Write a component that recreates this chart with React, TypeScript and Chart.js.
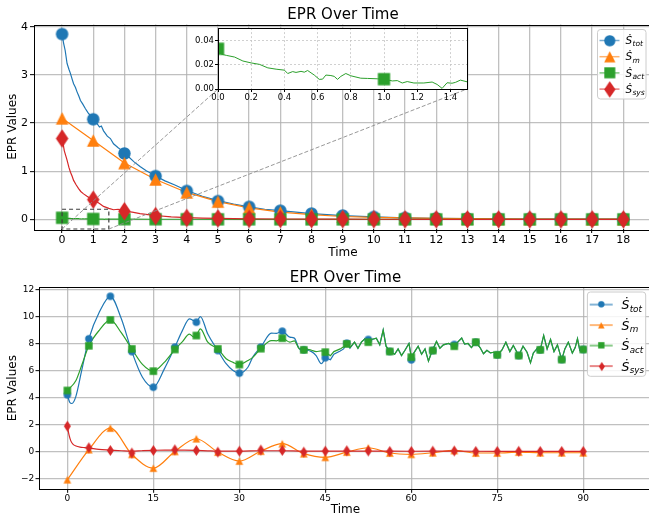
import React, { useEffect, useRef } from "react";
import { Chart, registerables } from "chart.js";

Chart.register(...registerables);

// ================= TOP PANEL (decay, t = 0..18) =================
const topXTicks = [0, 1, 2, 3, 4, 5, 6, 7, 8, 9, 10, 11, 12, 13, 14, 15, 16, 17, 18];
const topYTicks = [0, 1, 2, 3, 4];
const topMarkerTime = [0, 1, 2, 3, 4, 5, 6, 7, 8, 9, 10, 11, 12, 13, 14, 15, 16, 17, 18];
const topTotMarkers = [3.85, 2.08, 1.37, 0.9, 0.59, 0.38, 0.26, 0.18, 0.12, 0.08, 0.05, 0.03, 0.02, 0.015, 0.01, 0.008, 0.006, 0.005, 0.004];
const topMMarkers = [2.1, 1.64, 1.17, 0.83, 0.56, 0.37, 0.24, 0.15, 0.1, 0.06, 0.04, 0.03, 0.02, 0.015, 0.01, 0.008, 0.006, 0.005, 0.004];
const topActMarkers = [0.0335, 0.0082, 0.004, 0.003, 0.003, 0.002, 0.002, 0.002, 0.001, 0.001, 0.001, 0.001, 0.001, 0.001, 0.001, 0.001, 0.001, 0.001, 0.001];
const topSysMarkers = [1.68, 0.41, 0.17, 0.07, 0.03, 0.02, 0.01, 0.008, 0.005, 0.004, 0.003, 0.002, 0.002, 0.001, 0.001, 0.001, 0.001, 0.001, 0.001];

const topTotTime = [0, 0.05, 0.1, 0.16, 0.22, 0.27, 0.33, 0.37, 0.43, 0.48,
  0.54, 0.59, 0.66, 0.75, 0.83, 0.9, 1, 1.1, 1.2, 1.26,
  1.33, 1.45, 1.55, 1.65, 1.8, 1.9, 2, 2.15, 2.3, 2.5,
  2.7, 2.85, 3, 3.3, 3.6, 4, 4.5, 5, 5.5, 6,
  6.5, 7, 8, 9, 10, 11, 12, 13, 14, 15,
  16, 17, 18];
const topTotLine = [3.85, 3.66, 3.51, 3.24, 3.12, 3.03, 2.9, 2.82, 2.74, 2.65,
  2.56, 2.47, 2.4, 2.3, 2.22, 2.16, 2.07, 2.01, 1.92, 1.94,
  1.84, 1.73, 1.68, 1.57, 1.49, 1.44, 1.37, 1.29, 1.2, 1.1,
  1.01, 0.96, 0.9, 0.8, 0.72, 0.6, 0.48, 0.39, 0.32, 0.26,
  0.21, 0.18, 0.12, 0.08, 0.05, 0.03, 0.02, 0.015, 0.01, 0.008,
  0.006, 0.005, 0.004];

const topSysTime = [0, 0.04, 0.07, 0.12, 0.16, 0.22, 0.27, 0.32, 0.37, 0.45,
  0.53, 0.6, 0.69, 0.8, 0.9, 1, 1.1, 1.2, 1.33, 1.5,
  1.65, 1.8, 2, 2.25, 2.5, 2.75, 3, 3.5, 4, 4.5,
  5, 6, 7, 8, 9, 10, 12, 14, 16, 18];
const topSysLine = [1.68, 1.55, 1.43, 1.32, 1.23, 1.08, 0.98, 0.9, 0.81, 0.72,
  0.64, 0.58, 0.53, 0.48, 0.44, 0.41, 0.37, 0.33, 0.27, 0.23,
  0.2, 0.21, 0.17, 0.15, 0.12, 0.1, 0.08, 0.05, 0.035, 0.025,
  0.02, 0.012, 0.008, 0.005, 0.004, 0.003, 0.002, 0.001, 0.001, 0.001];

// S_act detail (shown in the inset, t = 0..1.5)
const actDetailTime = [0, 0.02, 0.05, 0.1, 0.15, 0.2, 0.25, 0.3, 0.35, 0.4,
  0.42, 0.45, 0.47, 0.5, 0.52, 0.54, 0.58, 0.61, 0.63, 0.65,
  0.68, 0.7, 0.72, 0.74, 0.77, 0.8, 0.86, 0.9, 0.96, 1,
  1.05, 1.08, 1.11, 1.14, 1.18, 1.24, 1.29, 1.32, 1.35, 1.38,
  1.41, 1.43, 1.46, 1.5];
const actDetailLine = [0.0335, 0.029, 0.028, 0.0266, 0.0233, 0.0217, 0.0205, 0.0176, 0.0165, 0.0157,
  0.0129, 0.0145, 0.0138, 0.0147, 0.014, 0.0154, 0.0116, 0.008, 0.0082, 0.0116,
  0.0112, 0.0105, 0.008, 0.0105, 0.0129, 0.011, 0.009, 0.0088, 0.0085, 0.0082,
  0.0067, 0.007, 0.005, 0.0062, 0.005, 0.005, 0.0058, 0.0038, 0.0005, 0.0052,
  0.0048, 0.0055, 0.0074, 0.006];
const actLateTime = [2, 3, 4, 6, 8, 10, 12, 14, 16, 18];
const actLateLine = [0.004, 0.003, 0.003, 0.002, 0.002, 0.001, 0.001, 0.001, 0.001, 0.001];

const zoomRegion = { x0: 0, x1: 1.5, y0: -0.2, y1: 0.21 };
const insetXTicks = [0, 0.2, 0.4, 0.6, 0.8, 1.0, 1.2, 1.4];
const insetYTicks = [0, 0.02, 0.04];

// ================= BOTTOM PANEL (oscillating, t = 0..90) =================
const botXTicks = [0, 15, 30, 45, 60, 75, 90];
const botYTicks = [-2, 0, 2, 4, 6, 8, 10, 12];
const botMarkerTime = [0, 3.75, 7.5, 11.25, 15, 18.75, 22.5, 26.25, 30, 33.75, 37.5, 41.25, 45,
  48.75, 52.5, 56.25, 60, 63.75, 67.5, 71.25, 75, 78.75, 82.5, 86.25, 90];
const botTotMarkers = [4.2, 8.35, 11.5, 7.4, 4.76, 7.73, 9.58, 7.48, 5.8, 7.73, 8.91, 7.53, 6.94,
  8.02, 8.3, 7.41, 6.79, 7.48, 7.93, 8.1, 7.16, 7.11, 7.53, 6.81, 7.56];
const botActMarkers = [4.52, 7.83, 9.75, 7.6, 5.95, 7.56, 8.59, 7.6, 6.44, 7.62, 8.39, 7.53, 7.36,
  7.97, 8.1, 7.41, 6.99, 7.48, 7.8, 8.1, 7.16, 7.11, 7.53, 6.81, 7.56];
const botMMarkers = [-2.1, 0.13, 1.73, -0.22, -1.24, 0.0, 0.94, -0.05, -0.72, 0.02, 0.57, -0.17, -0.44,
  -0.05, 0.27, -0.12, -0.22, -0.1, 0.07, -0.12, -0.12, -0.05, -0.1, -0.1, -0.1];
const botSysMarkers = [1.87, 0.27, 0.07, -0.12, 0.07, 0.12, 0.07, -0.05, 0.02, 0.1, 0.07, -0.05, 0.02,
  0.05, 0.03, 0.0, 0.0, 0.02, 0.03, 0.0, 0.0, 0.01, 0.0, 0.0, 0.0];

const botSysTime = [0, 0.3, 0.6, 1, 1.5, 2.2, 3, 3.75, 5.5, 7.5, 9.5, 11.25, 13, 15, 17, 18.75,
  20.5, 22.5, 24.5, 26.25, 30, 33.75, 37.5, 41.25, 45, 52.5, 60, 67.5, 75, 82.5, 90];
const botSysLine = [1.87, 1.2, 0.78, 0.52, 0.4, 0.32, 0.28, 0.25, 0.15, 0.1, 0.05, 0.02, 0.05, 0.08, 0.1, 0.1,
  0.09, 0.07, 0.04, 0.02, 0.02, 0.05, 0.05, 0.02, 0.02, 0.02, 0.01, 0.02, 0.0, 0.0, 0.0];

const botTotHeadTime = [0, 0.4, 0.8, 1.5, 2.5, 3.75, 5.6, 7.5, 9.4, 11.25,
  13.1, 15, 16.9, 18.75, 20, 21.3, 22, 22.5, 23.2, 24.5,
  26.25, 27.7, 28.9, 30, 31.5, 32.4, 33.75, 35.6, 36.5, 37.5,
  38.8, 39.6, 40.5, 41.25, 42.6, 43.4, 44.3, 45];
const botTotHead = [4.2, 3.65, 3.55, 4.1, 6.0, 8.35, 10.35, 11.5, 9.85, 7.4,
  5.5, 4.76, 6.1, 7.73, 8.9, 9.83, 9.7, 9.58, 10.0, 8.7,
  7.48, 6.5, 6.0, 5.8, 6.24, 7.04, 7.73, 8.77, 8.75, 8.91,
  8.47, 8.4, 7.6, 7.53, 7.4, 7.1, 6.5, 6.94];
const botTotTailTime = [45, 45.9, 46.5, 47.6, 48.2, 48.75, 49.3, 50.1];
const botTotTail = [6.94, 6.8, 7.2, 7.45, 7.6, 8.02, 7.65, 8.1];

const botActHeadTime = [0, 1.5, 2.6, 3.75, 5.6, 7.5, 9.4, 11.25, 13.1, 15,
  16.9, 18.75, 20, 21.3, 22, 22.5, 23.2, 24.5, 26.25, 27.7,
  28.9, 30, 31.5, 32.4, 33.75, 35.6, 36.5, 37.5, 38.8, 39.6,
  40.5, 41.25, 42.6, 43.4, 44.3, 45];
const botActHead = [4.52, 5.26, 6.5, 7.83, 9.0, 9.75, 8.8, 7.6, 6.45, 5.95,
  6.6, 7.56, 8.1, 8.7, 8.5, 8.59, 9.09, 8.1, 7.6, 6.87,
  6.6, 6.44, 6.74, 6.99, 7.62, 8.22, 8.2, 8.4, 8.1, 8.2,
  7.6, 7.6, 7.5, 7.4, 7.45, 7.36];
const botActTailTime = [45, 45.9, 46.5, 47.6, 48.2, 48.75, 49.3, 50.1, 50.7, 51.3,
  51.9, 52.5, 53.1, 53.9, 54.5, 55.1, 55.6, 56.25, 57.1, 57.7,
  58.3, 58.9, 59.6, 60, 60.6, 61.2, 61.8, 62.4, 63, 63.6,
  64.4, 65, 65.6, 66.5, 67.5, 68.1, 68.8, 69.3, 69.9, 70.5,
  71.25, 72, 72.6, 73.2, 73.8, 74.4, 75, 75.8, 76.5, 77.2,
  77.8, 78.75, 79.5, 80.2, 80.8, 81.3, 82.1, 82.5, 83.1, 83.7,
  84.3, 84.9, 85.5, 86.25, 86.8, 87.4, 88.1, 88.6, 89, 89.4,
  90];
const botActTail = [7.36, 7.1, 7.4, 7.6, 7.75, 7.97, 7.7, 8.1, 7.65, 8.1,
  8.35, 8.1, 8.3, 8.4, 7.9, 9.0, 7.8, 7.41, 7.2, 7.6,
  7.1, 7.5, 8.0, 6.99, 7.4, 7.8, 7.2, 7.6, 6.7, 7.4,
  8.15, 7.65, 7.9, 8.0, 7.8, 8.1, 8.4, 7.95, 8.0, 7.7,
  8.1, 7.7, 7.24, 7.5, 7.3, 7.35, 7.16, 7.5, 8.1, 7.4,
  7.85, 7.11, 7.8, 7.35, 6.57, 7.3, 7.7, 7.53, 8.6, 7.6,
  8.3, 7.4, 7.9, 6.81, 7.6, 8.1, 7.3, 7.7, 8.35, 7.5,
  7.56];

const legendMain = "\u1E60";
const legendSubs = ["tot", "m", "act", "sys"];
const TITLE = "EPR Over Time";
const X_TITLE = "Time";
const Y_TITLE = "EPR Values";

// ================= styling =================
const C_TOT = "#1f77b4";
const C_M = "#ff7f0e";
const C_ACT = "#2ca02c";
const C_SYS = "#d62728";
const GRID = "rgba(176,176,176,0.8)";
const FONT = '"DejaVu Sans", sans-serif';
const INSET_X = 190;
const INSET_Y = 22;

type Shape = "circle" | "square" | "triangle" | "diamond";
function markerCanvas(shape: Shape, w: number, h: number, color: string): HTMLCanvasElement {
  const pad = 1;
  const c = document.createElement("canvas");
  c.width = Math.ceil(w) + pad * 2;
  c.height = Math.ceil(h) + pad * 2;
  const ctx = c.getContext("2d")!;
  const cx = c.width / 2, cy = c.height / 2;
  ctx.fillStyle = color;
  ctx.beginPath();
  if (shape === "circle") ctx.arc(cx, cy, w / 2, 0, Math.PI * 2);
  else if (shape === "square") ctx.rect(cx - w / 2, cy - h / 2, w, h);
  else if (shape === "triangle") {
    ctx.moveTo(cx, cy - h / 2); ctx.lineTo(cx + w / 2, cy + h / 2); ctx.lineTo(cx - w / 2, cy + h / 2); ctx.closePath();
  } else {
    ctx.moveTo(cx, cy - h / 2); ctx.lineTo(cx + w / 2, cy); ctx.lineTo(cx, cy + h / 2); ctx.lineTo(cx - w / 2, cy); ctx.closePath();
  }
  ctx.fill();
  return c;
}

const pts = (t: number[], v: number[]) => t.map((x, i) => ({ x, y: v[i] }));
const fmt = (d: number) => (v: any) => {
  const n = Number(v);
  const s = Math.abs(n).toFixed(d);
  return n < -1e-9 ? "\u2212" + s : s;
};

const framePlugin = {
  id: "frame",
  afterDatasetsDraw(chart: any) {
    const { ctx, chartArea: a } = chart;
    ctx.save();
    ctx.strokeStyle = "#000";
    ctx.lineWidth = 1;
    ctx.strokeRect(Math.round(a.left) + 0.5, Math.round(a.top) + 0.5, Math.round(a.right - a.left), Math.round(a.bottom - a.top));
    ctx.restore();
  },
};

function legendPlugin(cfg: any, items: any[]) {
  return {
    id: "mathLegend",
    afterDraw(chart: any) {
      const { ctx, chartArea: a } = chart;
      const right = a.right - cfg.padRight;
      const top = a.top + cfg.padTop;
      const left = right - cfg.width;
      ctx.save();
      const r = 3;
      ctx.beginPath();
      ctx.moveTo(left + r, top);
      ctx.lineTo(right - r, top); ctx.quadraticCurveTo(right, top, right, top + r);
      ctx.lineTo(right, top + cfg.height - r); ctx.quadraticCurveTo(right, top + cfg.height, right - r, top + cfg.height);
      ctx.lineTo(left + r, top + cfg.height); ctx.quadraticCurveTo(left, top + cfg.height, left, top + cfg.height - r);
      ctx.lineTo(left, top + r); ctx.quadraticCurveTo(left, top, left + r, top);
      ctx.closePath();
      ctx.fillStyle = "rgba(255,255,255,0.85)";
      ctx.fill();
      ctx.strokeStyle = "#cccccc";
      ctx.lineWidth = 1;
      ctx.stroke();
      items.forEach((it, i) => {
        const y = top + cfg.firstRow + i * cfg.rowGap;
        ctx.globalAlpha = cfg.lineAlpha;
        ctx.strokeStyle = it.color;
        ctx.lineWidth = cfg.lineWidth;
        ctx.beginPath();
        ctx.moveTo(left + cfg.lineX0, y);
        ctx.lineTo(left + cfg.lineX1, y);
        ctx.stroke();
        ctx.globalAlpha = 1;
        const m = it.marker as HTMLCanvasElement;
        const s = cfg.markScale || 1;
        const mw = m.width * s, mh = m.height * s;
        ctx.drawImage(m, Math.round(left + cfg.markX - mw / 2), Math.round(y - mh / 2), mw, mh);
        ctx.fillStyle = "#000";
        ctx.textBaseline = "alphabetic";
        ctx.textAlign = "left";
        ctx.font = `italic ${cfg.size}px ${FONT}`;
        const tx = left + cfg.textX;
        const base = y + cfg.size * 0.36;
        ctx.fillText(legendMain, tx, base);
        const w = ctx.measureText(legendMain).width;
        ctx.font = `italic ${cfg.subSize}px ${FONT}`;
        ctx.fillText(it.sub, tx + w + 0.3, base + cfg.size * 0.2);
      });
      ctx.restore();
    },
  };
}

function lineDs(data: any[], color: string, order: number, extra: any = {}) {
  return { data, borderColor: color, backgroundColor: color, borderWidth: 1.2, pointRadius: 0, showLine: true, tension: 0, order, ...extra };
}
// One dataset carrying all markers: points are painted in array order,
// so the series listed later (sys) ends up on top, as in the reference.
function markersDs(groups: { t: number[]; v: number[]; marker: HTMLCanvasElement }[], order: number) {
  const data: { x: number; y: number }[] = [];
  const styles: HTMLCanvasElement[] = [];
  groups.forEach((g) => g.t.forEach((x, i) => { data.push({ x, y: g.v[i] }); styles.push(g.marker); }));
  return { data, showLine: false, pointRadius: 5, pointStyle: styles, borderColor: "#000", backgroundColor: "#000", order };
}

function scaleOpts(o: any) {
  return {
    type: "linear",
    min: o.min,
    max: o.max,
    afterBuildTicks: (s: any) => { s.ticks = o.ticks.map((v: number) => ({ value: v })); },
    afterFit: (s: any) => { if (o.width !== undefined) s.width = o.width; if (o.height !== undefined) s.height = o.height; },
    ticks: { autoSkip: false, maxRotation: 0, color: "#000", font: { size: o.font, family: FONT }, padding: o.pad, callback: fmt(o.dec) },
    grid: { color: o.gridColor || GRID, lineWidth: o.gridWidth || 1.3, tickColor: "#000", tickLength: o.tickLen, tickWidth: 1 },
    border: { display: false, dash: o.dash },
    title: o.title ? { display: true, text: o.title, color: "#000", font: { size: 12, family: FONT }, padding: o.titlePad } : { display: false },
  };
}

export default function App() {
  const topRef = useRef<HTMLCanvasElement>(null);
  const insetRef = useRef<HTMLCanvasElement>(null);
  const botRef = useRef<HTMLCanvasElement>(null);

  useEffect(() => {
    Chart.defaults.font.family = FONT;
    Chart.defaults.color = "#000";
    const charts: Chart[] = [];

    const big = {
      tot: markerCanvas("circle", 12.5, 12.5, C_TOT),
      m: markerCanvas("triangle", 12.5, 12.5, C_M),
      act: markerCanvas("square", 12.3, 12.3, C_ACT),
      sys: markerCanvas("diamond", 12.5, 18.5, C_SYS),
    };
    const small = {
      tot: markerCanvas("circle", 7.5, 7.5, C_TOT),
      m: markerCanvas("triangle", 7.6, 7.6, C_M),
      act: markerCanvas("square", 7.5, 7.5, C_ACT),
      sys: markerCanvas("diamond", 7, 11, C_SYS),
    };

    const common = {
      responsive: false,
      animation: false as const,
      events: [] as any[],
    };

    // ---------- inset ----------
    const inset = new Chart(insetRef.current!, {
      type: "line",
      data: {
        datasets: [
          lineDs(pts(actDetailTime, actDetailLine), C_ACT, 12, { borderWidth: 1 }),
          markersDs([{ t: topMarkerTime, v: topActMarkers, marker: big.act }], 0),
        ] as any,
      },
      options: {
        ...common,
        layout: { padding: { left: 0, right: 8, top: 5, bottom: 0 } },
        plugins: { legend: { display: false }, tooltip: { enabled: false }, title: { display: false } },
        scales: {
          x: scaleOpts({ min: 0, max: 1.5, ticks: insetXTicks, height: 17, font: 8.5, pad: 1, dec: 1, tickLen: 3, dash: [2, 2], gridColor: "#c4c4c4", gridWidth: 0.8 }),
          y: scaleOpts({ min: 0, max: 0.0507, ticks: insetYTicks, width: 28, font: 8.5, pad: 1, dec: 2, tickLen: 3, dash: [2, 2], gridColor: "#c4c4c4", gridWidth: 0.8 }),
        } as any,
      },
      plugins: [
        { id: "bg", beforeDraw(chart: any) { const { ctx, chartArea: a } = chart; ctx.save(); ctx.fillStyle = "#fff"; ctx.fillRect(a.left, a.top, a.right - a.left, a.bottom - a.top); ctx.restore(); } },
        framePlugin,
      ],
    } as any);
    charts.push(inset);

    // ---------- top ----------
    const zoomPlugin = {
      id: "zoomMark",
      afterDatasetsDraw(chart: any) {
        const { ctx } = chart;
        const xs = chart.scales.x, ys = chart.scales.y;
        const x0 = xs.getPixelForValue(zoomRegion.x0), x1 = xs.getPixelForValue(zoomRegion.x1);
        const yT = ys.getPixelForValue(zoomRegion.y1), yB = ys.getPixelForValue(zoomRegion.y0);
        const ia = inset.chartArea;
        ctx.save();
        ctx.setLineDash([4, 3]);
        ctx.strokeStyle = "#3c3c3c";
        ctx.lineWidth = 1.2;
        ctx.strokeRect(x0, yT, x1 - x0, yB - yT);
        ctx.setLineDash([4, 2]);
        ctx.strokeStyle = "#8c8c8c";
        ctx.lineWidth = 0.9;
        ctx.beginPath();
        ctx.moveTo(x0, yB); ctx.lineTo(INSET_X + ia.left, INSET_Y + ia.bottom);
        ctx.moveTo(x1, yB); ctx.lineTo(INSET_X + ia.right, INSET_Y + ia.bottom);
        ctx.stroke();
        ctx.restore();
      },
    };
    const topItems = [
      { color: C_TOT, marker: big.tot, sub: legendSubs[0] },
      { color: C_M, marker: big.m, sub: legendSubs[1] },
      { color: C_ACT, marker: big.act, sub: legendSubs[2] },
      { color: C_SYS, marker: big.sys, sub: legendSubs[3] },
    ];
    const top = new Chart(topRef.current!, {
      type: "line",
      data: {
        datasets: [
          lineDs(pts(topTotTime, topTotLine), C_TOT, 14),
          lineDs(pts(topMarkerTime, topMMarkers), C_M, 13),
          lineDs(pts(actDetailTime.concat(actLateTime), actDetailLine.concat(actLateLine)), C_ACT, 12),
          lineDs(pts(topSysTime, topSysLine), C_SYS, 11),
          markersDs([
            { t: topMarkerTime, v: topTotMarkers, marker: big.tot },
            { t: topMarkerTime, v: topMMarkers, marker: big.m },
            { t: topMarkerTime, v: topActMarkers, marker: big.act },
            { t: topMarkerTime, v: topSysMarkers, marker: big.sys },
          ], 0),
        ] as any,
      },
      options: {
        ...common,
        layout: { padding: { left: 0, right: 8, top: 0, bottom: 0 } },
        plugins: {
          legend: { display: false },
          tooltip: { enabled: false },
          title: { display: true, text: TITLE, fullSize: false, color: "#000", font: { size: 15, weight: "normal", family: FONT }, padding: { top: 6.5, bottom: 0 } },
        },
        scales: {
          x: scaleOpts({ min: -0.9, max: 18.92, ticks: topXTicks, height: 33, font: 11, pad: 1, dec: 0, tickLen: 4, title: X_TITLE, titlePad: { top: 0, bottom: 2 } }),
          y: scaleOpts({ min: -0.2, max: 4.05, ticks: topYTicks, width: 34, font: 11, pad: 2, dec: 0, tickLen: 4, title: Y_TITLE, titlePad: { top: 6, bottom: 0 } }),
        } as any,
      },
      plugins: [framePlugin, zoomPlugin,
        legendPlugin({ padRight: 6, padTop: 5, width: 48.5, height: 69.5, firstRow: 11, rowGap: 16.2, lineX0: 2, lineX1: 22, markX: 12, textX: 28, size: 10.5, subSize: 7.5, lineWidth: 1.5, lineAlpha: 0.6, markScale: 0.9 }, topItems)],
    } as any);
    charts.push(top);

    // ---------- bottom ----------
    const botItems = [
      { color: C_TOT, marker: small.tot, sub: legendSubs[0] },
      { color: C_M, marker: small.m, sub: legendSubs[1] },
      { color: C_ACT, marker: small.act, sub: legendSubs[2] },
      { color: C_SYS, marker: small.sys, sub: legendSubs[3] },
    ];
    const totTailData = pts(botTotTailTime, botTotTail).concat(
      pts(botActTailTime, botActTail).filter((p) => p.x > botTotTailTime[botTotTailTime.length - 1])
    );
    const smooth = { cubicInterpolationMode: "monotone" };
    const bot = new Chart(botRef.current!, {
      type: "line",
      data: {
        datasets: [
          lineDs(pts(botTotHeadTime, botTotHead), C_TOT, 14, smooth),
          lineDs(totTailData, C_TOT, 14),
          lineDs(pts(botMarkerTime, botMMarkers), C_M, 13, smooth),
          lineDs(pts(botActHeadTime, botActHead), C_ACT, 12, smooth),
          lineDs(pts(botActTailTime, botActTail), C_ACT, 12),
          lineDs(pts(botSysTime, botSysLine), C_SYS, 11, smooth),
          markersDs([
            { t: botMarkerTime, v: botTotMarkers, marker: small.tot },
            { t: botMarkerTime, v: botMMarkers, marker: small.m },
            { t: botMarkerTime, v: botActMarkers, marker: small.act },
            { t: botMarkerTime, v: botSysMarkers, marker: small.sys },
          ], 0),
        ] as any,
      },
      options: {
        ...common,
        layout: { padding: { left: 0, right: 8, top: 0, bottom: 0 } },
        plugins: {
          legend: { display: false },
          tooltip: { enabled: false },
          title: { display: true, text: TITLE, fullSize: false, color: "#000", font: { size: 15, weight: "normal", family: FONT }, padding: { top: 7, bottom: 0 } },
        },
        scales: {
          x: scaleOpts({ min: -4.95, max: 102, ticks: botXTicks, height: 32.7, font: 9, pad: 0.5, dec: 0, tickLen: 3.5, title: X_TITLE, titlePad: { top: 0, bottom: 4.8 } }),
          y: scaleOpts({ min: -2.81, max: 12.19, ticks: botYTicks, width: 39, font: 9, pad: 1.2, dec: 0, tickLen: 3.5, title: Y_TITLE, titlePad: { top: 6, bottom: 0 } }),
        } as any,
      },
      plugins: [framePlugin,
        legendPlugin({ padRight: 6.3, padTop: 5, width: 58.3, height: 84.3, firstRow: 12.6, rowGap: 20.5, lineX0: 2.3, lineX1: 25.3, markX: 14, textX: 34, size: 12.5, subSize: 8.8, lineWidth: 2, lineAlpha: 0.55, markScale: 0.85 }, botItems)],
    } as any);
    charts.push(bot);

    return () => charts.forEach((c) => c.destroy());
  }, []);

  return (
    <div style={{ position: "fixed", left: 0, top: 0, width: 649, height: 514, overflow: "hidden", background: "#fff" }}>
      <canvas ref={topRef} width={660} height={262} style={{ position: "absolute", left: 0, top: 0, width: 660, height: 262 }} />
      <canvas ref={insetRef} width={285} height={84} style={{ position: "absolute", left: INSET_X, top: INSET_Y, width: 285, height: 84 }} />
      <canvas ref={botRef} width={660} height={260} style={{ position: "absolute", left: 0, top: 262, width: 660, height: 260 }} />
    </div>
  );
}
